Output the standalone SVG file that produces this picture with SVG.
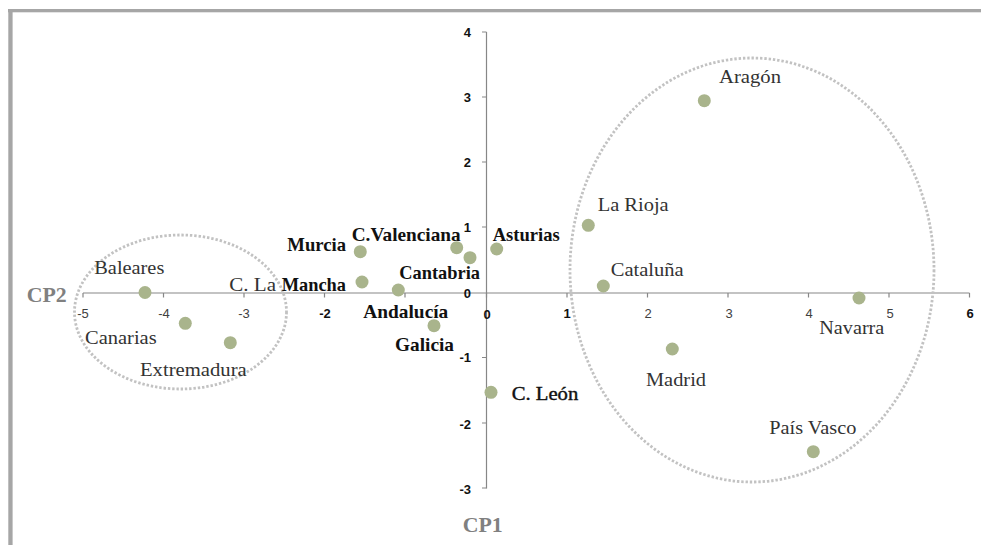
<svg xmlns="http://www.w3.org/2000/svg" width="981" height="545" viewBox="0 0 981 545">
<style>
.ax{stroke:#878787;stroke-width:1.2;fill:none}
.tk{font-family:"Liberation Sans",Arial,sans-serif;font-size:13px;font-weight:bold;fill:#111}
.tl{font-family:"Liberation Sans",Arial,sans-serif;font-size:13px;fill:#404040}
.pt{fill:#a9b48c}
.lr{font-family:"Liberation Serif","Times New Roman",serif;font-size:19px;fill:#333}
.lb{font-family:"Liberation Serif","Times New Roman",serif;font-size:19px;font-weight:bold;fill:#111}
.lk{font-family:"Liberation Serif","Times New Roman",serif;font-size:19px;fill:#111;stroke:#111;stroke-width:0.4}
.at{font-family:"Liberation Serif","Times New Roman",serif;font-size:20px;font-weight:bold;fill:#808080}
.el{fill:none;stroke:#c2c2c2;stroke-width:2.8;stroke-dasharray:2.4 1.9}
</style>
<rect x="0" y="0" width="981" height="545" fill="#fff"/>
<g id="frame">
<rect x="8" y="9" width="973" height="3.3" fill="#a6a6a6"/>
<rect x="8.3" y="9" width="4.3" height="536" fill="#a6a6a6"/>
</g>
<g id="axes">
<line class="ax" x1="83" y1="293" x2="969.5" y2="293"/>
<line class="ax" x1="486.5" y1="32" x2="486.5" y2="488.5"/>
<path class="ax" d="M83 293v4.5M163.5 293v4.5M244 293v4.5M324.5 293v4.5M405 293v4.5M486.5 293v4.5M567 293v4.5M647.5 293v4.5M728 293v4.5M808.5 293v4.5M889 293v4.5M969.5 293v4.5"/>
<path class="ax" d="M482 32h4.5M482 97h4.5M482 162h4.5M482 227h4.5M482 357.5h4.5M482 423h4.5M482 488h4.5"/>
<text class="tl" x="83" y="318" text-anchor="middle">-5</text>
<text class="tl" x="164" y="318" text-anchor="middle">-4</text>
<text class="tl" x="244" y="318" text-anchor="middle">-3</text>
<text class="tk" x="325" y="318" text-anchor="middle">-2</text>
<text class="tk" x="487" y="319" text-anchor="middle">0</text>
<text class="tk" x="567" y="318" text-anchor="middle">1</text>
<text class="tl" x="648" y="318" text-anchor="middle">2</text>
<text class="tl" x="729" y="318" text-anchor="middle">3</text>
<text class="tl" x="809" y="318" text-anchor="middle">4</text>
<text class="tl" x="890" y="318" text-anchor="middle">5</text>
<text class="tk" x="970" y="318" text-anchor="middle">6</text>
<text class="tk" x="471" y="37" text-anchor="end">4</text>
<text class="tk" x="471" y="101.5" text-anchor="end">3</text>
<text class="tk" x="471" y="166.5" text-anchor="end">2</text>
<text class="tk" x="471" y="231.5" text-anchor="end">1</text>
<text class="tk" x="471" y="298" text-anchor="end">0</text>
<text class="tk" x="471" y="362" text-anchor="end">-1</text>
<text class="tk" x="471" y="429" text-anchor="end">-2</text>
<text class="tk" x="471" y="494" text-anchor="end">-3</text>
<text class="at" x="26.7" y="302" textLength="40" lengthAdjust="spacingAndGlyphs">CP2</text>
<text class="at" x="462.7" y="532" textLength="40" lengthAdjust="spacingAndGlyphs">CP1</text>
</g>
<g id="clusters">
<ellipse class="el" cx="180.5" cy="312" rx="106" ry="77"/>
<ellipse class="el" cx="752" cy="270" rx="182" ry="212"/>
</g>
<g id="points">
<circle class="pt" cx="145" cy="292.5" r="6.5"/>
<circle class="pt" cx="185.3" cy="323.3" r="6.5"/>
<circle class="pt" cx="230.3" cy="342.7" r="6.5"/>
<circle class="pt" cx="360.3" cy="251.7" r="6.5"/>
<circle class="pt" cx="362" cy="282" r="6.5"/>
<circle class="pt" cx="398.3" cy="290" r="6.5"/>
<circle class="pt" cx="434" cy="325.7" r="6.5"/>
<circle class="pt" cx="456.7" cy="247.7" r="6.5"/>
<circle class="pt" cx="470" cy="257.7" r="6.5"/>
<circle class="pt" cx="496.7" cy="249" r="6.5"/>
<circle class="pt" cx="491" cy="392.3" r="6.5"/>
<circle class="pt" cx="588.3" cy="225.3" r="6.5"/>
<circle class="pt" cx="603.3" cy="286" r="6.5"/>
<circle class="pt" cx="704.3" cy="100.7" r="6.5"/>
<circle class="pt" cx="859" cy="298" r="6.5"/>
<circle class="pt" cx="672.3" cy="349" r="6.5"/>
<circle class="pt" cx="813.3" cy="451.7" r="6.5"/>
</g>
<g id="labels">
<text class="lr" x="719" y="83" textLength="62" lengthAdjust="spacingAndGlyphs">Aragón</text>
<text class="lr" x="597.7" y="211" textLength="71" lengthAdjust="spacingAndGlyphs">La Rioja</text>
<text class="lr" x="610.7" y="276" textLength="73" lengthAdjust="spacingAndGlyphs">Cataluña</text>
<text class="lr" x="819.3" y="333.5" textLength="65" lengthAdjust="spacingAndGlyphs">Navarra</text>
<text class="lr" x="646" y="386" textLength="60" lengthAdjust="spacingAndGlyphs">Madrid</text>
<text class="lr" x="769.3" y="433.5" textLength="87" lengthAdjust="spacingAndGlyphs">País Vasco</text>
<text class="lr" x="94.3" y="274" textLength="70" lengthAdjust="spacingAndGlyphs">Baleares</text>
<text class="lr" x="85" y="344" textLength="71.7" lengthAdjust="spacingAndGlyphs">Canarias</text>
<text class="lr" x="140" y="376" textLength="106.7" lengthAdjust="spacingAndGlyphs">Extremadura</text>
<text class="lr" x="229.3" y="291" textLength="46.7" lengthAdjust="spacingAndGlyphs">C. La</text>
<text class="lb" x="281.7" y="291" textLength="64.3" lengthAdjust="spacingAndGlyphs">Mancha</text>
<text class="lb" x="287.3" y="251" textLength="58.7" lengthAdjust="spacingAndGlyphs">Murcia</text>
<text class="lb" x="351.7" y="241" textLength="109" lengthAdjust="spacingAndGlyphs">C.Valenciana</text>
<text class="lb" x="492.7" y="241" textLength="67" lengthAdjust="spacingAndGlyphs">Asturias</text>
<text class="lb" x="399.3" y="279" textLength="80.7" lengthAdjust="spacingAndGlyphs">Cantabria</text>
<text class="lb" x="363.3" y="318" textLength="85" lengthAdjust="spacingAndGlyphs">Andalucía</text>
<text class="lb" x="395" y="351" textLength="59" lengthAdjust="spacingAndGlyphs">Galicia</text>
<text class="lk" x="511.7" y="399.5" textLength="66.6" lengthAdjust="spacingAndGlyphs">C. León</text>
</g>
</svg>
